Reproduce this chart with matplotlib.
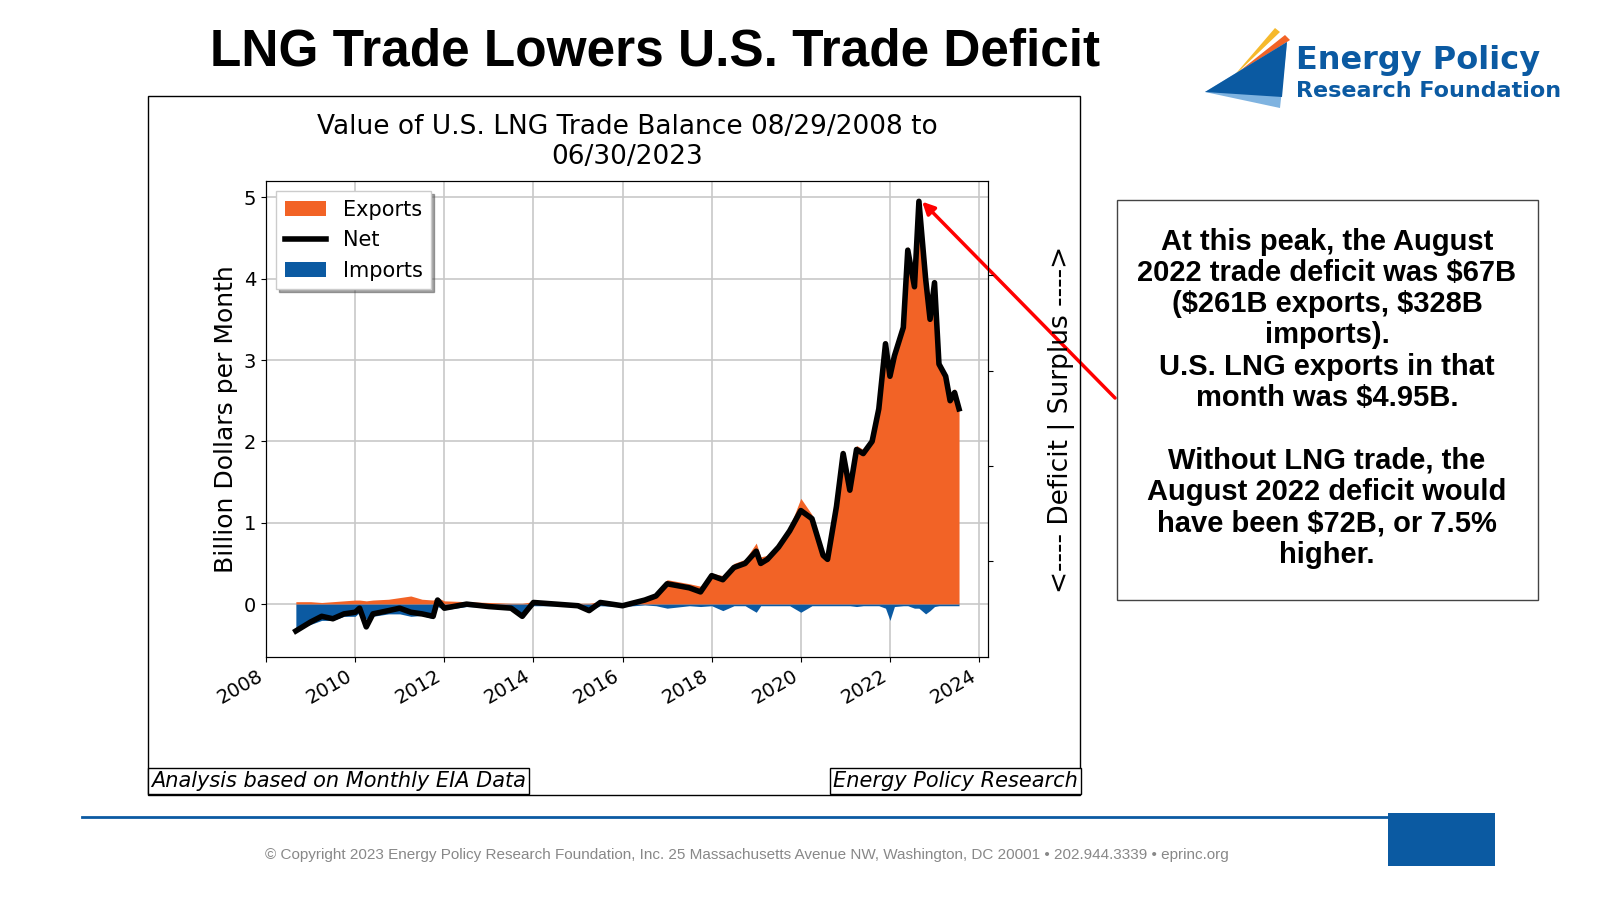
import matplotlib
matplotlib.use("Agg")
import matplotlib.pyplot as plt
from matplotlib.patches import Rectangle, Polygon

plt.rcParams["text.parse_math"] = False

years = [2008.67, 2009.0, 2009.25, 2009.5, 2009.75, 2010.0, 2010.1, 2010.25, 2010.4, 2010.75, 2011.0, 2011.25,
         2011.5, 2011.75, 2011.85, 2012.0, 2012.5, 2013.0, 2013.5, 2013.75, 2014.0, 2014.5, 2015.0, 2015.25,
         2015.5, 2016.0, 2016.5, 2016.75, 2017.0, 2017.5, 2017.75, 2018.0, 2018.25, 2018.5, 2018.75, 2019.0,
         2019.1, 2019.25, 2019.5, 2019.75, 2020.0, 2020.25, 2020.5, 2020.6, 2020.8, 2020.95, 2021.1, 2021.25,
         2021.4, 2021.6, 2021.75, 2021.9, 2022.0, 2022.1, 2022.3, 2022.4, 2022.55, 2022.65, 2022.8, 2022.9,
         2023.0, 2023.1, 2023.25, 2023.35, 2023.45, 2023.55]
net = [-0.33, -0.22, -0.15, -0.18, -0.12, -0.10, -0.05, -0.28, -0.12, -0.08, -0.05, -0.10,
       -0.12, -0.15, 0.05, -0.05, 0.00, -0.03, -0.05, -0.15, 0.02, 0.00, -0.02, -0.08,
       0.02, -0.02, 0.05, 0.10, 0.25, 0.20, 0.15, 0.35, 0.30, 0.45, 0.50, 0.65,
       0.50, 0.55, 0.70, 0.90, 1.15, 1.05, 0.60, 0.55, 1.20, 1.85, 1.40, 1.90,
       1.85, 2.00, 2.40, 3.20, 2.80, 3.05, 3.40, 4.35, 3.90, 4.95, 4.00, 3.50,
       3.95, 2.95, 2.80, 2.50, 2.60, 2.40]
exports = [0.03, 0.03, 0.02, 0.03, 0.04, 0.05, 0.05, 0.04, 0.05, 0.06, 0.08, 0.10,
           0.06, 0.05, 0.08, 0.04, 0.03, 0.02, 0.01, 0.01, 0.03, 0.02, 0.01, 0.01,
           0.03, 0.01, 0.06, 0.12, 0.30, 0.25, 0.22, 0.38, 0.35, 0.50, 0.55, 0.75,
           0.58, 0.60, 0.75, 0.95, 1.30, 1.10, 0.65, 0.58, 1.25, 1.90, 1.45, 1.95,
           1.90, 2.05, 2.45, 3.25, 2.90, 3.10, 3.45, 4.40, 4.00, 5.00, 4.20, 3.55,
           4.00, 3.00, 2.85, 2.55, 2.65, 2.42]
imports = [-0.30, -0.25, -0.20, -0.20, -0.15, -0.15, -0.10, -0.18, -0.15, -0.12, -0.12, -0.15,
           -0.14, -0.18, -0.03, -0.07, -0.03, -0.04, -0.05, -0.15, -0.02, -0.02, -0.03, -0.08,
           -0.02, -0.03, -0.01, -0.02, -0.05, -0.02, -0.03, -0.02, -0.08, -0.02, -0.02, -0.10,
           -0.02, -0.02, -0.02, -0.02, -0.10, -0.02, -0.02, -0.02, -0.02, -0.02, -0.02, -0.03,
           -0.02, -0.02, -0.02, -0.05, -0.20, -0.03, -0.02, -0.02, -0.05, -0.05, -0.12, -0.08,
           -0.03, -0.02, -0.02, -0.02, -0.02, -0.02]

ORANGE = "#f26326"
BLUE = "#0b5aa2"

fig = plt.figure(figsize=(16, 9), dpi=100)
W, H = 1600, 900
def fx(x): return x / W
def fy(y): return 1 - y / H

fig.patches.append(Rectangle((fx(148), fy(795)), fx(932), (795 - 96) / H, transform=fig.transFigure,
                             fill=False, edgecolor="black", lw=1))
fig.text(fx(655), fy(52), "LNG Trade Lowers U.S. Trade Deficit", ha="center", va="center",
         fontsize=37, fontweight="bold", family="Liberation Sans")

ax = fig.add_axes([fx(266), fy(657), (988 - 266) / W, (657 - 181) / H])
ax.fill_between(years, 0, exports, color=ORANGE, lw=0, label="Exports")
ax.plot(years, net, color="black", lw=4, label="Net")
ax.fill_between(years, 0, imports, color=BLUE, lw=0, label="Imports")
ax.set_xlim(2008, 2024.2)
ax.set_ylim(-0.65, 5.2)
ax.set_xticks(range(2008, 2025, 2))
ax.set_xticklabels([str(y) for y in range(2008, 2025, 2)], rotation=30, ha="right", fontsize=14)
ax.set_yticks(range(0, 6))
ax.tick_params(axis="y", labelsize=14)
ax.grid(True, color="#c8c8c8", lw=1.2)
ax.set_axisbelow(True)
ax.set_ylabel("Billion Dollars per Month", fontsize=18)
ax.set_title("Value of U.S. LNG Trade Balance 08/29/2008 to\n06/30/2023", fontsize=19, pad=12)
ax.legend(loc="upper left", fontsize=15, shadow=True, fancybox=False, framealpha=1)
ax2 = ax.twinx()
ax2.set_ylim(-0.65, 5.2)
ax2.set_yticks([0.53, 1.7, 2.87, 4.05])
ax2.set_yticklabels([])
ax2.set_ylabel("<---- Deficit | Surplus ---->", fontsize=19, labelpad=36)

ax.annotate("", xy=(2022.68, 4.97), xycoords="data", xytext=(fx(1117), fy(400)),
            textcoords="figure fraction",
            arrowprops=dict(arrowstyle="-|>", color="red", lw=2.5, mutation_scale=18))

fig.text(fx(151), fy(781), "Analysis based on Monthly EIA Data", fontsize=15, style="italic", va="center",
         bbox=dict(boxstyle="square,pad=0.15", fc="white", ec="black", lw=1))
fig.text(fx(1078), fy(781), "Energy Policy Research", fontsize=15, style="italic", va="center", ha="right",
         bbox=dict(boxstyle="square,pad=0.15", fc="white", ec="black", lw=1))

fig.patches.append(Rectangle((fx(1117), fy(600)), fx(421), 400 / H, transform=fig.transFigure,
                             fill=False, edgecolor="#444444", lw=1))
fig.text(fx(1327), fy(398),
         "At this peak, the August\n2022 trade deficit was $67B\n($261B exports, $328B\nimports).\n"
         "U.S. LNG exports in that\nmonth was $4.95B.\n\nWithout LNG trade, the\n"
         "August 2022 deficit would\nhave been $72B, or 7.5%\nhigher.",
         ha="center", va="center", fontsize=21, fontweight="bold", family="Liberation Sans", linespacing=1.15)

for pts, c in [([(1232, 78), (1275, 28), (1280, 32)], "#f6b92c"),
               ([(1222, 85), (1285, 35), (1290, 40)], "#f26326"),
               ([(1205, 92), (1287, 42), (1280, 108)], "#7fb3e0"),
               ([(1205, 92), (1287, 42), (1282, 97)], BLUE)]:
    fig.patches.append(Polygon([(fx(x), fy(y)) for x, y in pts], closed=True, transform=fig.transFigure,
                               fc=c, ec="none"))
fig.text(fx(1296), fy(61), "Energy Policy", fontsize=23, fontweight="bold", color=BLUE, va="center")
fig.text(fx(1296), fy(91), "Research Foundation", fontsize=16, fontweight="bold", color=BLUE, va="center")

fig.add_artist(plt.Line2D([fx(82), fx(1390)], [fy(817), fy(817)], color=BLUE, lw=2, transform=fig.transFigure))
fig.patches.append(Rectangle((fx(1388), fy(866)), fx(107), 53 / H, transform=fig.transFigure,
                             fc=BLUE, ec="none"))
fig.text(fx(747), fy(855), "© Copyright 2023 Energy Policy Research Foundation, Inc. 25 Massachusetts Avenue NW, "
         "Washington, DC 20001 • 202.944.3339 • eprinc.org", ha="center", va="center", fontsize=11,
         color="#888888", family="Liberation Sans")

fig.savefig("out.png", dpi=100)
